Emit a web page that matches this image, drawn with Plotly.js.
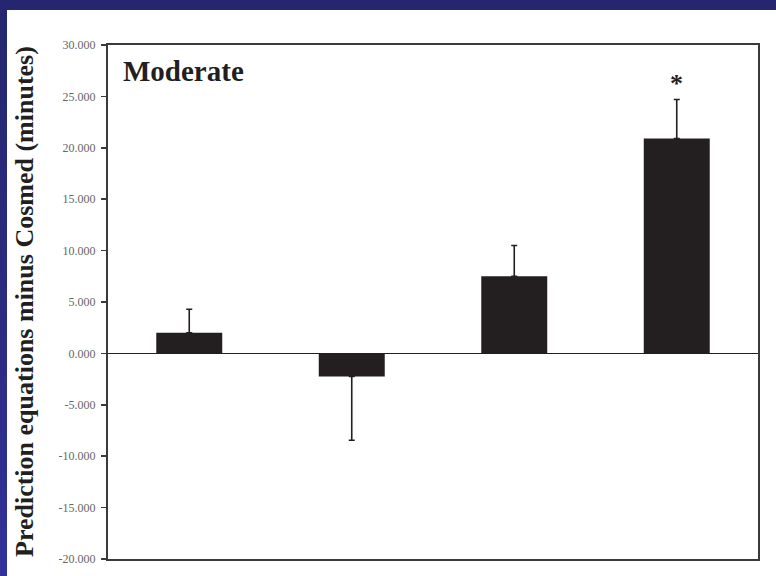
<!DOCTYPE html>
<html>
<head>
<meta charset="utf-8">
<script src="https://cdn.plot.ly/plotly-3.0.1.min.js"></script>
<style>
  html, body { margin: 0; padding: 0; width: 776px; height: 576px; overflow: hidden;
    background: linear-gradient(180deg, #25266f 0%, #2a2c82 60%, #30329a 100%); }
  #chart { position: absolute; left: 7px; top: 10px; width: 769px; height: 566px; }
</style>
</head>
<body>
<div id="chart"></div>
<script>
const categories = ["Equation 1", "Equation 2", "Equation 3", "Equation 4"];
const meanDiff = [2.0, -2.25, 7.5, 20.9];
const errUp = [2.3, 0, 3.0, 3.8];
const errDown = [0, 6.2, 0, 0];
const tickValues = [-20, -15, -10, -5, 0, 5, 10, 15, 20, 25, 30];
const tickLabels = ["-20.000", "-15.000", "-10.000", "-5.000", "0.000", "5.000", "10.000", "15.000", "20.000", "25.000", "30.000"];
const yTitle = "Prediction equations minus Cosmed (minutes)";
const panelLabel = "Moderate";
const sigCategory = "Equation 4";

const serif = "Liberation Serif, Times New Roman, serif";

const trace = {
  type: "bar",
  x: categories,
  y: meanDiff,
  marker: { color: "#231f20", line: { width: 0 } },
  error_y: {
    type: "data", symmetric: false,
    array: errUp, arrayminus: errDown,
    color: "#231f20", thickness: 1.6, width: 3
  },
  hoverinfo: "none"
};

const layout = {
  width: 769, height: 566,
  paper_bgcolor: "#ffffff", plot_bgcolor: "#ffffff",
  margin: { l: 101, r: 18, t: 35, b: 17 },
  showlegend: false,
  bargap: 0.594,
  xaxis: {
    type: "category", showticklabels: false, ticks: "",
    showline: true, linecolor: "#3a3a3a", linewidth: 2, mirror: true,
    showgrid: false, zeroline: false, fixedrange: true
  },
  yaxis: {
    range: [-20, 30], tickvals: tickValues, ticktext: tickLabels,
    ticks: "outside", ticklen: 5, tickwidth: 1.5, tickcolor: "#3a3a3a",
    ticklabelstandoff: 3,
    tickfont: { family: serif, size: 12, color: "#666666" },
    showline: true, linecolor: "#3a3a3a", linewidth: 2, mirror: true,
    showgrid: false, zeroline: true, zerolinecolor: "#231f20", zerolinewidth: 1.5,
    fixedrange: true
  },
  annotations: [
    {
      text: "<b>" + yTitle + "</b>", xref: "paper", yref: "paper",
      x: 0, y: 0.5, xanchor: "center", yanchor: "middle", xshift: -84,
      textangle: -90, showarrow: false,
      font: { family: serif, size: 26, color: "#231f20" }
    },
    {
      text: "<b>" + panelLabel + "</b>", xref: "paper", yref: "paper",
      x: 0.02, y: 0.985, xanchor: "left", yanchor: "top", showarrow: false,
      font: { family: serif, size: 29, color: "#231f20" }
    },
    {
      text: "<b>*</b>", xref: "x", yref: "y",
      x: sigCategory, y: 26.5, xanchor: "center", yanchor: "middle", showarrow: false,
      yshift: -3,
      font: { family: serif, size: 26, color: "#231f20" }
    }
  ]
};

Plotly.newPlot("chart", [trace], layout, { displayModeBar: false, staticPlot: true });
</script>
</body>
</html>
